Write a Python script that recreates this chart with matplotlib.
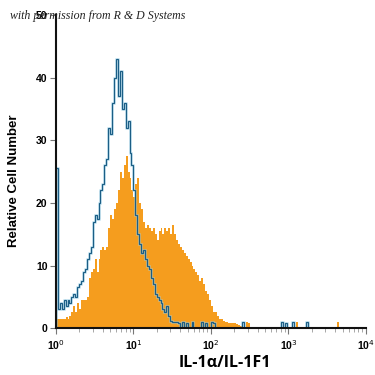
import numpy as np
import matplotlib
matplotlib.use("Agg")
import matplotlib.pyplot as plt

# histogram bin width in decades
bin_width = 0.025
n_bins = 160

# isotype control (open, blue) counts, bins starting at 10^0
blue_counts = [25.5, 3, 4, 3, 4.5, 3.5, 4.5, 4, 5, 5.5, 5, 6.5, 7, 7.5, 9, 9.5,
               11, 12, 13, 17, 18, 17.5, 20, 22, 23, 26, 27, 32, 31, 36, 40, 43,
               37, 41, 35, 36, 32, 33, 28, 26, 22, 18, 15, 13.5, 12, 12.5, 11, 10,
               9.5, 8, 7, 5.5, 5, 4.5, 4, 3, 2.5, 3.5, 2, 1.2, 1.0, 1.0, 1.0, 0.8]
blue_spike_dec = [1.62, 1.68, 1.75, 1.87, 1.92, 2.00, 2.03, 2.41, 2.90, 2.95, 3.05, 3.22]
blue_spike_h = [1.0, 0.8, 1.0, 1.0, 0.8, 1.0, 0.8, 1.0, 1.0, 0.8, 1.0, 1.0]

# IL-1alpha stained (filled, orange) counts
orange_counts = [1.5, 1.5, 1.5, 1.5, 1.5, 1.8, 1.5, 2, 2.5, 3.5, 2.5, 4, 3, 4.5, 4.5, 4.5,
                 5, 8, 9, 9.5, 11, 9, 11, 12.5, 13, 12.5, 13, 16, 18, 17.5, 19, 20,
                 22, 25, 24, 26, 27.5, 25, 24, 22, 21, 23, 24, 20, 19, 17, 16, 16.5,
                 16, 15.5, 16, 15, 14, 15.5, 16, 15, 16, 15.5, 16, 15, 16.5, 15, 14, 13.5,
                 13, 12.5, 12, 11.5, 11, 10.5, 10, 9.5, 9, 8.5, 7.5, 8, 7, 6,
                 5.5, 4.5, 3.5, 2.5, 2.5, 2, 1.5, 1.5, 1.2, 1.0, 1.0, 0.8, 0.8, 0.8,
                 0.8, 0.6, 0.5, 0.4]
orange_spike_dec = [2.44, 2.48, 3.11, 3.63]
orange_spike_h = [1.0, 0.8, 1.0, 1.0]

y_ticks = [0, 10, 20, 30, 40, 50]
x_ticks = [1, 10, 100, 1000, 10000]
x_ticklabels = ["10$^0$", "10$^1$", "10$^2$", "10$^3$", "10$^4$"]


def build(counts, spike_dec, spike_h):
    arr = np.zeros(n_bins)
    arr[:len(counts)] = counts
    for d, h in zip(spike_dec, spike_h):
        arr[int(round(d / bin_width))] = h
    return arr


blue = build(blue_counts, blue_spike_dec, blue_spike_h)
orange = build(orange_counts, orange_spike_dec, orange_spike_h)
edges = 10 ** (np.arange(n_bins + 1) * bin_width)

fig = plt.figure(figsize=(3.75, 3.75), dpi=100)
ax = fig.add_axes([0.149, 0.125, 0.827, 0.835])

ax.stairs(orange, edges, fill=True, color="#F59D1E", linewidth=0)
ax.stairs(blue, edges, color="#9fd3ea", linewidth=1.8, alpha=0.6)
ax.stairs(blue, edges, color="#1B5E86", linewidth=0.9)

ax.set_xscale("log")
ax.set_xlim(1, 10000)
ax.set_ylim(0, 50)
ax.set_yticks(y_ticks)
ax.set_xticks(x_ticks)
ax.set_xticklabels(x_ticklabels)

for s in ["top", "right"]:
    ax.spines[s].set_visible(False)
for s in ["left", "bottom"]:
    ax.spines[s].set_linewidth(1.5)
    ax.spines[s].set_color("#111111")

for lab in ax.get_yticklabels() + ax.get_xticklabels():
    lab.set_fontfamily(["Liberation Sans", "DejaVu Sans"])
    lab.set_fontweight("bold")
    lab.set_fontsize(7.5)

ax.tick_params(axis="y", length=4, width=0.8, color="#777777", pad=2)
ax.tick_params(axis="x", which="major", length=4, width=0.8, color="#777777", pad=3)
ax.tick_params(axis="x", which="minor", length=3, width=0.6, color="#999999")

ax.set_ylabel("Relative Cell Number", family=["Liberation Sans Narrow", "Liberation Sans", "DejaVu Sans"],
              weight="bold", fontsize=9.5, labelpad=14)
ax.yaxis.set_label_coords(-0.115, 0.47)
ax.set_xlabel("IL-1\u03b1/IL-1F1", family=["Open Sans", "DejaVu Sans"], weight="bold",
              fontsize=11.5, labelpad=2)
ax.xaxis.set_label_coords(0.545, -0.085)

fig.text(0.027, 0.958, "with permission from R & D Systems", family=["Liberation Serif", "DejaVu Serif"],
         style="italic", fontsize=8.6, color="#222222", va="center", ha="left")

fig.savefig("out.png", dpi=100)
